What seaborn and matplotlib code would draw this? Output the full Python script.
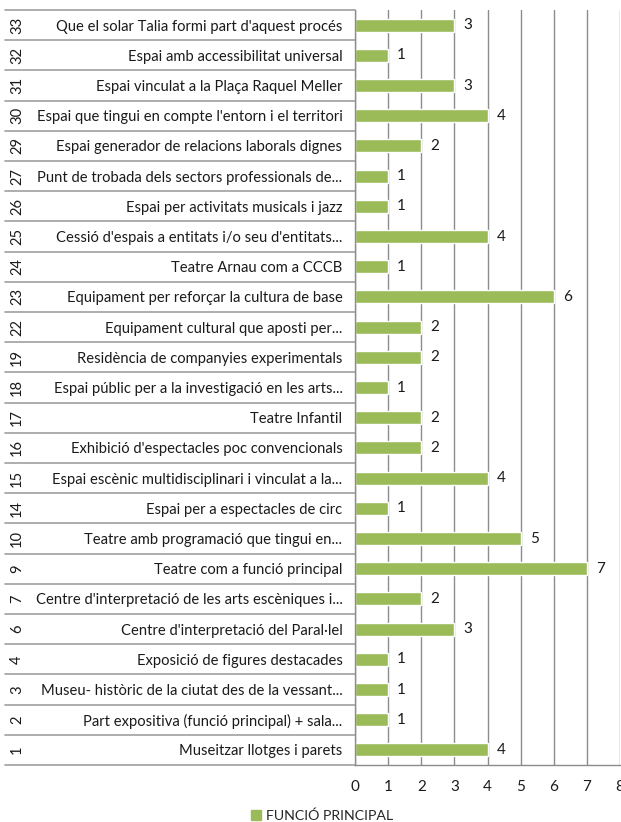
import matplotlib
matplotlib.use("Agg")
import matplotlib.pyplot as plt
import matplotlib.transforms as mtransforms
from matplotlib.patches import Patch
import seaborn as sns
import pandas as pd

codes = ["33", "32", "31", "30", "29", "27", "26", "25", "24", "23", "22", "19", "18",
         "17", "16", "15", "14", "10", "9", "7", "6", "4", "3", "2", "1"]
labels = [
    "Que el solar Talia formi part d'aquest procés",
    "Espai amb accessibilitat universal",
    "Espai vinculat a la Plaça Raquel Meller",
    "Espai que tingui en compte l'entorn i el territori",
    "Espai generador de relacions laborals dignes",
    "Punt de trobada dels sectors professionals de...",
    "Espai per activitats musicals i jazz",
    "Cessió d'espais a entitats i/o seu d'entitats...",
    "Teatre Arnau com a CCCB",
    "Equipament per reforçar la cultura de base",
    "Equipament cultural que aposti per...",
    "Residència de companyies experimentals",
    "Espai públic per a la investigació en les arts...",
    "Teatre Infantil",
    "Exhibició d'espectacles poc convencionals",
    "Espai escènic multidisciplinari i vinculat a la...",
    "Espai per a espectacles de circ",
    "Teatre amb programació que tingui en...",
    "Teatre com a funció principal",
    "Centre d'interpretació de les arts escèniques i...",
    "Centre d'interpretació del Paral·lel",
    "Exposició de figures destacades",
    "Museu- històric de la ciutat des de la vessant...",
    "Part expositiva (funció principal) + sala...",
    "Museitzar llotges i parets",
]
values = [3, 1, 3, 4, 2, 1, 1, 4, 1, 6, 2, 2, 1, 2, 2, 4, 1, 5, 7, 2, 3, 1, 1, 1, 4]
series_name = "FUNCIÓ PRINCIPAL"
xticks = [0, 1, 2, 3, 4, 5, 6, 7, 8]

sns.set_style("white")
plt.rcParams["font.family"] = ["Lato", "DejaVu Sans"]

GREEN = "#9BBB59"
GRID = "#8C8C8C"
LINE = "#A0A0A0"
TXT = "#1A1A1A"

df = pd.DataFrame({"key": [f"{c}|{l}" for c, l in zip(codes, labels)],
                   "label": labels, "value": values})

fig = plt.figure(figsize=(6.21, 8.22), dpi=100)
W, H = 621, 822
ax = fig.add_axes([355 / W, 1 - 765 / H, 265 / W, 755 / H])

sns.barplot(data=df, x="value", y="key", orient="h", color=GREEN, width=0.43,
            saturation=1, ax=ax, order=df["key"])

ax.set_xlim(0, 8)
ax.set_ylim(len(df) - 0.5, -0.5)
ax.set_xticks(xticks)
ax.set_xticklabels([str(t) for t in xticks], fontsize=11, color=TXT)
ax.tick_params(axis="x", length=5, width=1, color=GRID, pad=6, direction="out")
ax.set_yticks(range(len(df)))
ax.set_yticklabels(df["label"], fontsize=10.6, color=TXT)
ax.tick_params(axis="y", length=0, pad=9)
ax.set_xlabel("")
ax.set_ylabel("")

ax.xaxis.grid(True, color=GRID, linewidth=1)
ax.set_axisbelow(True)
for s in ["top", "right"]:
    ax.spines[s].set_visible(False)
for s in ["left", "bottom"]:
    ax.spines[s].set_color(GRID)
    ax.spines[s].set_linewidth(1)

# code column (rotated numbers) and row separators
trans = mtransforms.blended_transform_factory(fig.transFigure, ax.transData)
for i, c in enumerate(codes):
    ax.text(17 / W, i, c, rotation=90, ha="center", va="center", fontsize=10.6,
            color=TXT, transform=trans, clip_on=False)
for i in range(len(df) + 1):
    ax.plot([5 / W, 355 / W], [i - 0.5, i - 0.5], color=LINE, linewidth=1.2,
            transform=trans, clip_on=False)

# value labels
for i, v in enumerate(values):
    ax.annotate(str(v), (v, i), xytext=(6.5, 0), textcoords="offset points",
                ha="left", va="center", fontsize=11, color=TXT)

handles = [Patch(facecolor=GREEN, edgecolor=GREEN, label=series_name)]
fig.legend(handles=handles, loc="center", bbox_to_anchor=(322 / W, 1 - 816 / H),
           frameon=False, fontsize=10.2, handlelength=0.7, handleheight=0.7,
           handletextpad=0.4)

fig.savefig("out.png", dpi=100)
